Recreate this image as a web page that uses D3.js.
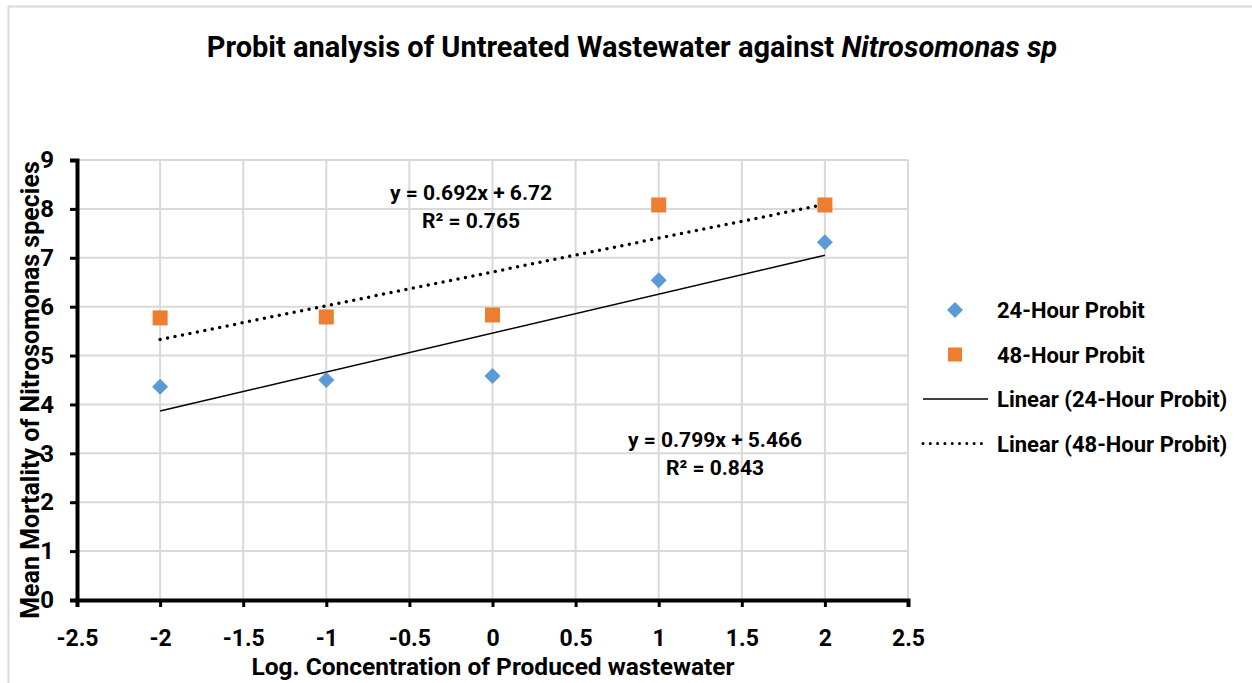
<!DOCTYPE html>
<html>
<head>
<meta charset="utf-8">
<script src="https://cdn.jsdelivr.net/npm/d3@7"></script>
<style>
  body { margin: 0; background: #fff; }
  svg text { font-family: "Roboto", "Liberation Sans", sans-serif; font-weight: bold; fill: #000; }
</style>
</head>
<body>
<svg id="chart" width="1252" height="683"></svg>
<script>
// data
var X_VALUES = [-2, -1, 0, 1, 2];
var PROBIT_24H = [4.36, 4.50, 4.58, 6.54, 7.32];
var PROBIT_48H = [5.77, 5.79, 5.83, 8.08, 8.08];
var X_TICKS = [-2.5, -2, -1.5, -1, -0.5, 0, 0.5, 1, 1.5, 2, 2.5];
var Y_TICKS = [0, 1, 2, 3, 4, 5, 6, 7, 8, 9];
var SERIES_NAMES = ["24-Hour Probit", "48-Hour Probit"];
var EQUATIONS = [["y = 0.799x + 5.466", "R² = 0.843"], ["y = 0.692x + 6.72", "R² = 0.765"]];

var BLUE = "#5b9bd5", ORANGE = "#ed7d31", GRID = "#d9d9d9";

var margin = { left: 77, top: 160, right: 344, bottom: 83 };
var W = 1252, H = 683;

var svg = d3.select("#chart");

// outer frame
svg.append("rect").attr("x", 8.5).attr("y", 6.5).attr("width", W).attr("height", H)
    .attr("fill", "none").attr("stroke", GRID).attr("stroke-width", 2);

var xScale = d3.scaleLinear().domain([-2.5, 2.5]).range([margin.left, W - margin.right]);
var yScale = d3.scaleLinear().domain([0, 9]).range([H - margin.bottom, margin.top]);

// gridlines
svg.append("g").selectAll("line").data(X_TICKS.slice(1)).enter().append("line")
    .attr("x1", d => xScale(d)).attr("x2", d => xScale(d))
    .attr("y1", yScale(0)).attr("y2", yScale(9))
    .attr("stroke", GRID).attr("stroke-width", 2);
svg.append("g").selectAll("line").data(Y_TICKS.slice(1)).enter().append("line")
    .attr("x1", xScale(-2.5)).attr("x2", xScale(2.5))
    .attr("y1", d => yScale(d)).attr("y2", d => yScale(d))
    .attr("stroke", GRID).attr("stroke-width", 2);

// axes
var xAxis = d3.axisBottom(xScale).tickValues(X_TICKS).tickSize(7).tickPadding(23);
var gx = svg.append("g").attr("transform", "translate(0," + yScale(0) + ")").call(xAxis);
gx.select(".domain").attr("stroke", "#000").attr("stroke-width", 4);
gx.selectAll(".tick line").attr("stroke", "#000").attr("stroke-width", 3);
gx.selectAll("text").style("font-size", "23px").text(d => String(d));

var yAxis = d3.axisLeft(yScale).tickValues(Y_TICKS).tickSize(7).tickPadding(16);
var gy = svg.append("g").attr("transform", "translate(" + xScale(-2.5) + ",0)").call(yAxis);
gy.select(".domain").attr("stroke", "#000").attr("stroke-width", 4);
gy.selectAll(".tick line").attr("stroke", "#000").attr("stroke-width", 3);
gy.selectAll("text").style("font-size", "24px");

// linear fits computed from the series
function fit(xs, ys) {
    var mx = d3.mean(xs), my = d3.mean(ys);
    var sxy = d3.sum(xs, (x, i) => (x - mx) * (ys[i] - my));
    var sxx = d3.sum(xs, x => (x - mx) * (x - mx));
    var b = sxy / sxx;
    return { slope: b, intercept: my - b * mx };
}
var f24 = fit(X_VALUES, PROBIT_24H), f48 = fit(X_VALUES, PROBIT_48H);
var xr = d3.extent(X_VALUES);

svg.append("line")
    .attr("x1", xScale(xr[0])).attr("y1", yScale(f24.intercept + f24.slope * xr[0]))
    .attr("x2", xScale(xr[1])).attr("y2", yScale(f24.intercept + f24.slope * xr[1]))
    .attr("stroke", "#000").attr("stroke-width", 1.5);
svg.append("line")
    .attr("x1", xScale(xr[0])).attr("y1", yScale(f48.intercept + f48.slope * xr[0]))
    .attr("x2", xScale(xr[1])).attr("y2", yScale(f48.intercept + f48.slope * xr[1]))
    .attr("stroke", "#000").attr("stroke-width", 3.5)
    .attr("stroke-dasharray", "0 7.6").attr("stroke-linecap", "round");

// markers
var diamond = d3.symbol().type(d3.symbolSquare).size(128);
svg.append("g").selectAll("path").data(X_VALUES).enter().append("path")
    .attr("d", diamond)
    .attr("transform", (d, i) => "translate(" + xScale(d) + "," + yScale(PROBIT_24H[i]) + ") rotate(45)")
    .attr("fill", BLUE);
svg.append("g").selectAll("rect").data(X_VALUES).enter().append("rect")
    .attr("x", d => xScale(d) - 7.5).attr("y", (d, i) => yScale(PROBIT_48H[i]) - 7.5)
    .attr("width", 15).attr("height", 15).attr("fill", ORANGE);

// equation labels
function eqLabel(lines, cx, cy) {
    var t = svg.append("text").attr("text-anchor", "middle").style("font-size", "21px");
    lines.forEach(function (s, i) {
        t.append("tspan").attr("x", cx).attr("y", cy + i * 28).text(s);
    });
}
eqLabel(EQUATIONS[1], 471, 200);
eqLabel(EQUATIONS[0], 715, 447);

// title
var title = svg.append("text").attr("x", 632).attr("y", 57).attr("text-anchor", "middle")
    .style("font-size", "29px");
title.append("tspan").text("Probit analysis of Untreated Wastewater against ");
title.append("tspan").style("font-style", "italic").text("Nitrosomonas sp");

// axis titles
svg.append("text").attr("x", 493).attr("y", 675).attr("text-anchor", "middle")
    .style("font-size", "24.5px").text("Log. Concentration of Produced wastewater");
svg.append("text").attr("transform", "translate(39,390) rotate(-90)").attr("text-anchor", "middle")
    .style("font-size", "25px").text("Mean Mortality of Nitrosomonas species");

// legend
var legend = svg.append("g");
var legendItems = [SERIES_NAMES[0], SERIES_NAMES[1], "Linear (" + SERIES_NAMES[0] + ")", "Linear (" + SERIES_NAMES[1] + ")"];
legendItems.forEach(function (name, i) {
    var y = 310 + i * 44.5;
    if (i === 0) {
        legend.append("path").attr("d", diamond).attr("fill", BLUE)
            .attr("transform", "translate(955," + y + ") rotate(45)");
    } else if (i === 1) {
        legend.append("rect").attr("x", 948).attr("y", y - 7).attr("width", 14).attr("height", 14).attr("fill", ORANGE);
    } else {
        var ln = legend.append("line").attr("x1", 923).attr("x2", 988).attr("y1", y).attr("y2", y)
            .attr("stroke", "#000");
        if (i === 2) ln.attr("stroke-width", 1.5);
        else ln.attr("stroke-width", 3).attr("stroke-dasharray", "0 7.3").attr("stroke-linecap", "round");
    }
    legend.append("text").attr("x", 997).attr("y", y + 8).style("font-size", "22px").text(name);
});
</script>
</body>
</html>
